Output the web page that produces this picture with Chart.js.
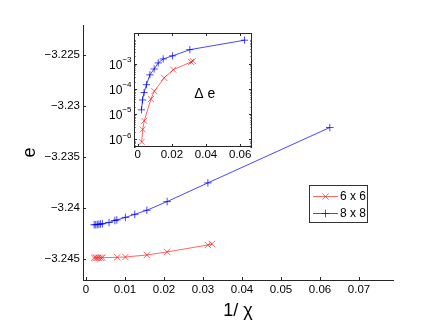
<!DOCTYPE html>
<html><head><meta charset="utf-8">
<script src="https://cdn.jsdelivr.net/npm/chart.js@4/dist/chart.umd.min.js"></script>
<style>
html,body{margin:0;padding:0;background:#fff;}
#wrap{position:relative;width:436px;height:331px;overflow:hidden;}
#main{position:absolute;left:0;top:0;}
#inset{position:absolute;left:100px;top:25px;}
</style></head><body>
<div id="wrap"><canvas id="main" width="436" height="331"></canvas><canvas id="inset" width="160" height="145"></canvas></div>
<script>
// ---- data ----
const seriesLabels = ['6 x 6', '8 x 8'];
// main panel: energy e versus 1/chi
const x6 = [0.0323, 0.03125, 0.0208, 0.0156, 0.0101, 0.0080, 0.0042, 0.0038, 0.0033, 0.0029, 0.0025, 0.0021];
const e6 = [-3.24350, -3.24360, -3.24428, -3.24458, -3.24478, -3.24481, -3.24484, -3.24485, -3.24485, -3.24486, -3.24486, -3.24486];
const x8 = [0.0625, 0.03125, 0.0208, 0.0156, 0.0125, 0.0101, 0.0079, 0.0074, 0.0059, 0.0042, 0.0037, 0.0033, 0.0029, 0.0025, 0.0021];
const e8 = [-3.23210, -3.23752, -3.23935, -3.24020, -3.24060, -3.24090, -3.24115, -3.24120, -3.24140, -3.24152, -3.24155, -3.24158, -3.24160, -3.24161, -3.24162];
// inset: delta e (log scale) versus 1/chi
const dx6 = [0.0323, 0.0312, 0.0208, 0.0155, 0.0097, 0.0077, 0.0038, 0.0029, 0.0023];
const de6 = [1.3e-3, 1.2e-3, 5.9e-4, 2.8e-4, 8.3e-5, 4.0e-5, 5.5e-6, 2.5e-6, 8.0e-7];
const dx8 = [0.0625, 0.0305, 0.0204, 0.0149, 0.0120, 0.0096, 0.0071, 0.0051, 0.0037, 0.0028, 0.0022];
const de8 = [8.8e-3, 3.7e-3, 2.1e-3, 1.58e-3, 1.1e-3, 6.3e-4, 3.7e-4, 1.5e-4, 7.3e-5, 3.7e-5, 1.5e-5];
// ticks
const mainXTicks = [0, 0.01, 0.02, 0.03, 0.04, 0.05, 0.06, 0.07];
const mainYTicks = [-3.245, -3.24, -3.235, -3.23, -3.225];
const insetXTicks = [0, 0.02, 0.04, 0.06];
const insetYTicks = [1e-6, 1e-5, 1e-4, 1e-3];
const xTitle = '1/ \u03C7';
const yTitle = 'e';
const insetLabel = '\u0394 e';

// ---- styles ----
const F = "'Liberation Sans', Arial, Helvetica, sans-serif";
const RED = 'rgba(255,0,0,0.6)';
const BLUE = 'rgba(0,0,255,0.72)';
const AX = '#262626';
const fmt = v => { let s = String(Number(v.toFixed(4))); return s.replace('-', '\u2212'); };
const pts = (xs, ys) => xs.map((x, i) => ({x: x, y: ys[i]}));

function ds(label, data, color, style, r) {
  return {label: label, data: data, borderColor: color, backgroundColor: color,
    pointStyle: style, pointRadius: r, pointBorderColor: color, pointBorderWidth: 1,
    pointHoverRadius: r, borderWidth: 1, tension: 0, fill: false};
}

function drawMarker(ctx, style, x, y, r) {
  ctx.beginPath();
  if (style === 'cross') {
    ctx.moveTo(x - r, y); ctx.lineTo(x + r, y);
    ctx.moveTo(x, y - r); ctx.lineTo(x, y + r);
  } else {
    const o = r * Math.SQRT1_2;
    ctx.moveTo(x - o, y - o); ctx.lineTo(x + o, y + o);
    ctx.moveTo(x + o, y - o); ctx.lineTo(x - o, y + o);
  }
  ctx.stroke();
}

const mainPlugin = {
  id: 'mainExtras',
  afterDraw(chart) {
    const ctx = chart.ctx, a = chart.chartArea;
    const xs = chart.scales.x, ys = chart.scales.y;
    ctx.save();
    ctx.strokeStyle = AX; ctx.lineWidth = 1;
    ctx.beginPath();
    mainXTicks.forEach(v => { const px = Math.round(xs.getPixelForValue(v)) + 0.5; ctx.moveTo(px, a.bottom); ctx.lineTo(px, a.bottom - 3); });
    mainYTicks.forEach(v => { const py = Math.round(ys.getPixelForValue(v)) + 0.5; ctx.moveTo(a.left, py); ctx.lineTo(a.left + 3, py); });
    ctx.stroke();
    // legend
    const L = 309, T = 185, W = 59, H = 38;
    ctx.fillStyle = '#fff'; ctx.fillRect(L, T, W, H);
    ctx.strokeStyle = '#333'; ctx.strokeRect(L + 0.5, T + 0.5, W - 1, H - 1);
    const rows = [T + 11, T + 28];
    chart.data.datasets.forEach((d, i) => {
      const y = rows[i] + 0.5;
      ctx.strokeStyle = d.borderColor; ctx.lineWidth = 1;
      ctx.beginPath(); ctx.moveTo(L + 4, y); ctx.lineTo(L + 29, y); ctx.stroke();
      drawMarker(ctx, d.pointStyle, L + 16.5, y, d.pointRadius);
      ctx.fillStyle = '#000'; ctx.font = '12px ' + F; ctx.textBaseline = 'middle'; ctx.textAlign = 'left';
      ctx.fillText(d.label, L + 31, rows[i] + 1);
    });
    ctx.restore();
  }
};

new Chart(document.getElementById('main'), {
  type: 'line',
  data: {datasets: [ds(seriesLabels[0], pts(x6, e6), RED, 'crossRot', 4.5), ds(seriesLabels[1], pts(x8, e8), BLUE, 'cross', 3.8)]},
  options: {
    responsive: false, animation: false, devicePixelRatio: 1,
    layout: {padding: {left: 0, top: 25, right: 43, bottom: 0}},
    plugins: {legend: {display: false}, tooltip: {enabled: false}},
    scales: {
      x: {type: 'linear', min: -0.00077, max: 0.0787,
        afterBuildTicks: s => { s.ticks = mainXTicks.map(v => ({value: v})); },
        afterFit: s => { s.height = 51; },
        grid: {display: false, drawTicks: false},
        border: {display: true, color: AX, width: 1},
        ticks: {color: '#000', font: {family: F, size: 11.5}, padding: 3, maxRotation: 0, autoSkip: false, callback: v => fmt(v)},
        title: {display: true, text: xTitle, color: '#000', font: {family: F, size: 18}, padding: {top: 0, bottom: 9}}},
      y: {type: 'linear', min: -3.24703, max: -3.22206,
        afterBuildTicks: s => { s.ticks = mainYTicks.map(v => ({value: v})); },
        afterFit: s => { s.width = 83; },
        grid: {display: false, drawTicks: false},
        border: {display: true, color: AX, width: 1},
        ticks: {color: '#000', font: {family: F, size: 11.5}, padding: 3, autoSkip: false, callback: v => fmt(v)},
        title: {display: true, text: yTitle, color: '#000', font: {family: F, size: 18}, padding: {top: 19, bottom: 0}}}
    }
  },
  plugins: [mainPlugin]
});

const insetPlugin = {
  id: 'insetExtras',
  afterDraw(chart) {
    const ctx = chart.ctx, a = chart.chartArea;
    const xs = chart.scales.x, ys = chart.scales.y;
    ctx.save();
    ctx.strokeStyle = AX; ctx.lineWidth = 1;
    ctx.strokeRect(a.left + 0.5, a.top + 0.5, a.right - a.left - 1, a.bottom - a.top - 1);
    ctx.beginPath();
    insetXTicks.forEach(v => { const px = Math.round(xs.getPixelForValue(v)) + 0.5; ctx.moveTo(px, a.bottom); ctx.lineTo(px, a.bottom - 3); ctx.moveTo(px, a.top); ctx.lineTo(px, a.top + 3); });
    insetYTicks.forEach(v => { const py = Math.round(ys.getPixelForValue(v)) + 0.5; ctx.moveTo(a.left, py); ctx.lineTo(a.left + 3, py); ctx.moveTo(a.right, py); ctx.lineTo(a.right - 3, py); });
    // minor log ticks
    for (let d = -7; d <= -2; d++) {
      for (let m = 2; m <= 9; m++) {
        const v = m * Math.pow(10, d);
        if (v < ys.min || v > ys.max) continue;
        const py = Math.round(ys.getPixelForValue(v)) + 0.5;
        ctx.moveTo(a.left, py); ctx.lineTo(a.left + 1.5, py);
        ctx.moveTo(a.right, py); ctx.lineTo(a.right - 1.5, py);
      }
    }
    ctx.stroke();
    // log tick labels 10^n
    ctx.fillStyle = '#000'; ctx.textBaseline = 'middle';
    insetYTicks.forEach(v => {
      const py = ys.getPixelForValue(v);
      const ex = fmt(Math.round(Math.log10(v)));
      ctx.font = '8px ' + F;
      const we = ctx.measureText(ex).width;
      const xr = a.left - 2.5;
      ctx.textAlign = 'left';
      ctx.fillText(ex, xr - we, py - 4);
      ctx.font = '12px ' + F; ctx.textAlign = 'right';
      ctx.fillText('10', xr - we, py + 1.5);
    });
    // label
    ctx.font = '14px ' + F; ctx.textAlign = 'center'; ctx.textBaseline = 'alphabetic';
    ctx.fillText(insetLabel, a.left + 0.6 * (a.right - a.left), a.top + 0.57 * (a.bottom - a.top));
    ctx.restore();
  }
};

new Chart(document.getElementById('inset'), {
  type: 'line',
  data: {datasets: [ds(seriesLabels[0], pts(dx6, de6), RED, 'crossRot', 4.2), ds(seriesLabels[1], pts(dx8, de8), BLUE, 'cross', 3.6)]},
  options: {
    responsive: false, animation: false, devicePixelRatio: 1,
    layout: {padding: {left: 0, top: 8, right: 8, bottom: 0}},
    plugins: {legend: {display: false}, tooltip: {enabled: false}},
    scales: {
      x: {type: 'linear', min: -0.0022, max: 0.0669,
        afterBuildTicks: s => { s.ticks = insetXTicks.map(v => ({value: v})); },
        afterFit: s => { s.height = 23; },
        grid: {display: false, drawTicks: false},
        border: {display: false},
        ticks: {color: '#000', font: {family: F, size: 11.5}, padding: 1, maxRotation: 0, autoSkip: false, callback: v => fmt(v)}},
      y: {type: 'logarithmic', min: 5.0e-7, max: 0.0170,
        afterBuildTicks: s => { s.ticks = insetYTicks.map(v => ({value: v})); },
        afterFit: s => { s.width = 34; },
        grid: {display: false, drawTicks: false},
        border: {display: false},
        ticks: {display: false}}
    }
  },
  plugins: [insetPlugin]
});
</script>
</body></html>
